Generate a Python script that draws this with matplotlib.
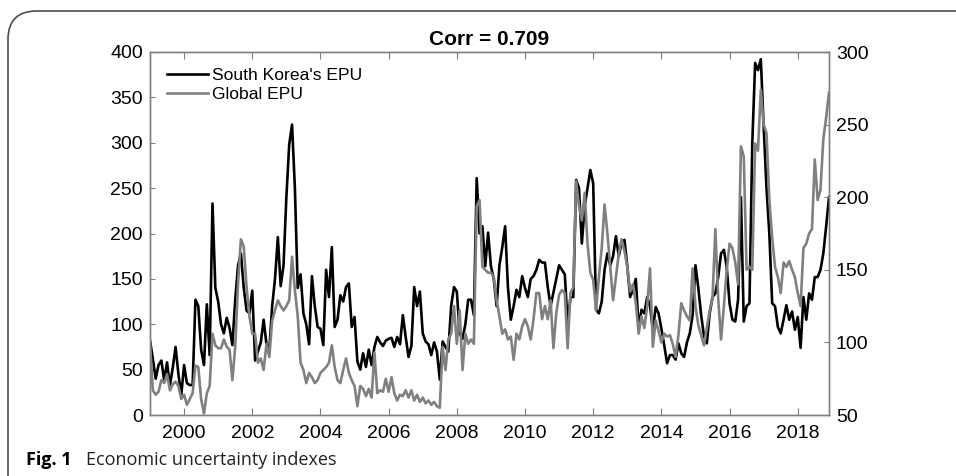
"""
Economic uncertainty indexes: South Korea's EPU vs Global EPU (twin y axes)
"""

import matplotlib
matplotlib.use('Agg')
import matplotlib.pyplot as plt
from matplotlib.patches import FancyBboxPatch
import numpy as np

# monthly values, Jan 1999 .. Dec 2018
kr_epu = [
	82, 62, 40, 55, 60, 38, 58, 32, 52, 75, 45, 22,         # 1999
	55, 35, 33, 33, 127, 120, 72, 55, 122, 66, 233, 140,    # 2000
	125, 100, 90, 107, 96, 77, 127, 165, 178, 140, 115, 112,  # 2001
	137, 60, 70, 80, 105, 78, 72, 120, 150, 196, 142, 165,  # 2002
	240, 298, 320, 250, 140, 155, 112, 100, 78, 153, 120, 97,  # 2003
	95, 77, 160, 130, 185, 97, 105, 132, 125, 141, 145, 97,  # 2004
	108, 59, 50, 68, 53, 72, 55, 75, 86, 80, 76, 82,        # 2005
	84, 85, 75, 86, 78, 110, 86, 64, 76, 141, 120, 136,     # 2006
	90, 81, 78, 66, 80, 70, 39, 81, 75, 70, 120, 141,       # 2007
	136, 90, 84, 100, 127, 127, 110, 261, 200, 208, 164, 201,  # 2008
	164, 150, 120, 165, 185, 208, 140, 105, 120, 138, 130, 153,  # 2009
	140, 130, 150, 153, 160, 171, 168, 168, 141, 120, 135, 150,  # 2010
	165, 160, 155, 101, 130, 130, 259, 250, 189, 230, 250, 270,  # 2011
	255, 116, 112, 125, 160, 178, 165, 175, 197, 175, 190, 193,  # 2012
	164, 130, 138, 150, 96, 116, 112, 130, 120, 94, 119, 112,  # 2013
	95, 77, 57, 66, 66, 61, 79, 68, 64, 80, 90, 110,        # 2014
	165, 140, 110, 87, 79, 112, 130, 134, 152, 178, 182, 163,  # 2015
	123, 105, 103, 127, 240, 103, 120, 123, 300, 388, 380, 392,  # 2016
	318, 250, 200, 123, 120, 97, 90, 105, 121, 105, 114, 94,  # 2017
	108, 74, 130, 105, 134, 127, 152, 152, 160, 178, 208, 240,  # 2018
]

global_epu = [
	99, 67, 64, 66, 74, 72, 78, 67, 71, 73, 70, 61,         # 1999
	64, 57, 61, 65, 84, 83, 61, 51, 65, 70, 106, 98,        # 2000
	96, 96, 102, 97, 95, 74, 97, 141, 171, 166, 138, 118,   # 2001
	106, 106, 86, 89, 81, 99, 90, 115, 122, 129, 125, 122,  # 2002
	125, 129, 159, 136, 118, 86, 81, 72, 79, 76, 72, 74,    # 2003
	79, 81, 83, 86, 98, 83, 74, 72, 81, 89, 79, 74,         # 2004
	70, 56, 70, 68, 63, 68, 62, 93, 65, 67, 66, 75,         # 2005
	66, 76, 65, 60, 64, 63, 67, 62, 67, 60, 64, 59,         # 2006
	62, 58, 60, 57, 59, 56, 55, 97, 81, 102, 106, 125,      # 2007
	99, 122, 81, 106, 99, 102, 99, 194, 198, 152, 150, 148,  # 2008
	148, 145, 129, 118, 106, 109, 102, 104, 88, 106, 102, 111,  # 2009
	116, 111, 102, 116, 134, 134, 116, 125, 116, 129, 96, 120,  # 2010
	133, 136, 134, 96, 134, 138, 211, 194, 184, 203, 168, 148,  # 2011
	143, 122, 145, 165, 195, 175, 152, 129, 145, 161, 171, 163,  # 2012
	152, 135, 140, 127, 106, 118, 110, 125, 151, 97, 115, 108,  # 2013
	100, 106, 104, 105, 99, 90, 105, 127, 122, 118, 115, 151,  # 2014
	125, 112, 105, 98, 110, 122, 131, 178, 130, 102, 125, 150,  # 2015
	168, 165, 155, 140, 235, 228, 150, 152, 150, 237, 232, 274,  # 2016
	250, 244, 198, 172, 152, 145, 134, 155, 152, 156, 150, 145,  # 2017
	134, 125, 165, 168, 175, 178, 226, 198, 205, 240, 255, 272,  # 2018
]

start_year = 1999
x_ticks = list(range(2000, 2019, 2))
left_ticks = list(range(0, 401, 50))
right_ticks = list(range(50, 301, 50))

title = 'Corr = 0.709'
labels = ["South Korea's EPU", 'Global EPU']

plt.rcParams['font.family'] = ['Liberation Sans', 'DejaVu Sans']

x = start_year + np.arange(len(kr_epu)) / 12.0

fig = plt.figure(figsize=(9.56, 4.76), dpi=100)
ax = fig.add_axes([150 / 956, 1 - 415 / 476, 679 / 956, 363 / 476])
ax2 = ax.twinx()

spine_col = '#808080'
l1, = ax.plot(x, kr_epu, color='black', lw=1.9, label=labels[0])
l2, = ax2.plot(x, global_epu, color='#808080', lw=1.9, label=labels[1])

ax.set_xlim(x[0], x[-1])
ax.set_ylim(0, 400)
ax2.set_ylim(50, 300)
ax.set_xticks(x_ticks)
ax.set_yticks(left_ticks)
ax2.set_yticks(right_ticks)

for a in (ax, ax2):
	for s in a.spines.values():
		s.set_color(spine_col)
		s.set_linewidth(1.0)
ax.tick_params(axis='x', direction='in', top=True, length=5, width=0.8, color=spine_col,
	labelsize=14, pad=7)
ax.tick_params(axis='y', direction='in', length=3.5, width=0.8, color=spine_col,
	labelsize=14, pad=5)
ax2.tick_params(axis='y', direction='in', length=3.5, width=0.8, color=spine_col,
	labelsize=14, pad=5)

ax.set_title(title, fontsize=15, fontweight='bold', pad=5)

ax2.legend([l1, l2], labels, loc='upper left', bbox_to_anchor=(17 / 679, 1 - 16 / 363),
	frameon=False, fontsize=12.6, handlelength=2.35, handletextpad=0.25,
	labelspacing=0.22, borderaxespad=0.0, borderpad=0.0)

# rounded frame round the figure (open to the right and bottom)
frame = FancyBboxPatch((8 / 956, -0.2), 1.2, 1.2 - 11 / 476,
	boxstyle='round,pad=0,rounding_size=0.03', transform=fig.transFigure,
	fill=False, edgecolor='#4d4d4d', lw=1.2, mutation_aspect=2.0, clip_on=False)
fig.patches.append(frame)

fig.text(26 / 956, 1 - 460 / 476, 'Fig. 1', fontsize=13, fontweight='bold',
	family=['Open Sans', 'DejaVu Sans'], va='center', ha='left')
fig.text(86 / 956, 1 - 460 / 476, 'Economic uncertainty indexes', fontsize=13,
	family=['Open Sans', 'DejaVu Sans'], va='center', ha='left', color='#222222')

fig.savefig('out.png', dpi=100)
